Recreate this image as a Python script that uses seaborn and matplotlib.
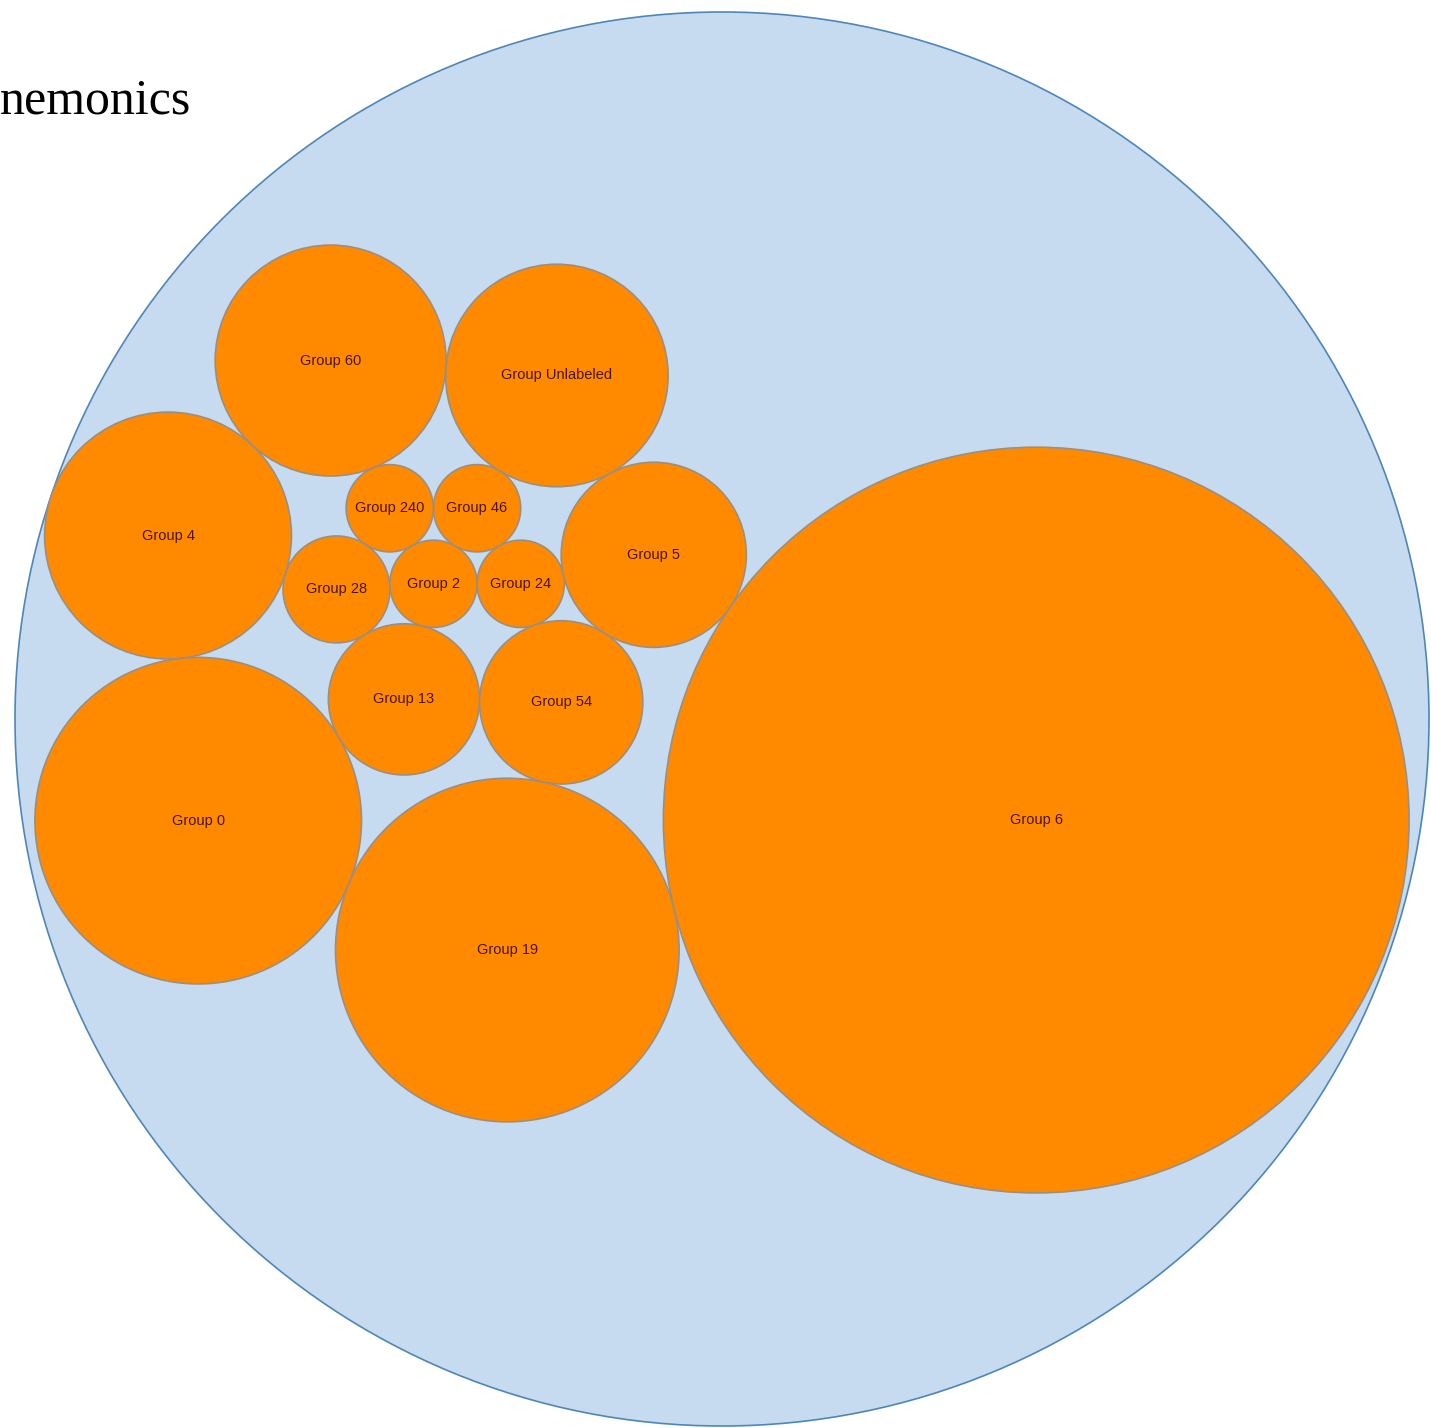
import math
import matplotlib
matplotlib.use("Agg")
import matplotlib.pyplot as plt
from matplotlib.patches import Circle
import seaborn as sns

# Data: group names and their counts (circle area ~ count)
GROUPS = [
    "Group 0", "Group 2", "Group 4", "Group 5", "Group 6", "Group 13", "Group 19",
    "Group 24", "Group 28", "Group 46", "Group 54", "Group 60", "Group 240",
    "Group Unlabeled",
]
COUNTS = [28, 2, 16, 9, 146, 6, 31, 2, 3, 2, 7, 14, 2, 13]
TITLE = "nemonics"

ROOT_FILL = "#c6dbef"
ROOT_EDGE = "#4f86b8"
LEAF_FILL = "#ff8a00"
LEAF_EDGE = "#9a8e84"
LABEL_COLOR = "#4a1400"


class Node:
    def __init__(self, name, value):
        self.name = name
        self.value = value
        self.r = math.sqrt(value)
        self.x = 0.0
        self.y = 0.0
        self.nxt = self
        self.prv = self


def place(a, b, c):
    db = a.r + c.r
    dx = b.x - a.x
    dy = b.y - a.y
    if db and (dx or dy):
        da = b.r + c.r
        dc = dx * dx + dy * dy
        da *= da
        db *= db
        x = 0.5 + (db - da) / (2 * dc)
        y = math.sqrt(max(0.0, 2 * da * (db + dc) - (db - dc) ** 2 - da * da)) / (2 * dc)
        c.x = a.x + x * dx + y * dy
        c.y = a.y + x * dy - y * dx
    else:
        c.x = a.x + db
        c.y = a.y


def intersects(a, b):
    dx = b.x - a.x
    dy = b.y - a.y
    dr = a.r + b.r
    return 0.999 * dr * dr > dx * dx + dy * dy


def insert(a, b):
    c = a.nxt
    a.nxt = b
    b.prv = a
    b.nxt = c
    c.prv = b


def splice(a, b):
    a.nxt = b
    b.prv = a


def pack_siblings(nodes):
    box = [math.inf, -math.inf, math.inf, -math.inf]

    def bound(n):
        box[0] = min(box[0], n.x - n.r)
        box[1] = max(box[1], n.x + n.r)
        box[2] = min(box[2], n.y - n.r)
        box[3] = max(box[3], n.y + n.r)

    a = nodes[0]
    a.x, a.y = -a.r, 0.0
    bound(a)
    b = nodes[1]
    b.x, b.y = b.r, 0.0
    bound(b)
    c = nodes[2]
    place(a, b, c)
    bound(c)
    insert(a, c)
    a.prv = c
    insert(c, b)
    b = a.nxt
    i = 3
    while i < len(nodes):
        c = nodes[i]
        place(a, b, c)
        isect, s1, s2 = False, 1, 1
        j = b.nxt
        while j is not b:
            if intersects(j, c):
                isect = True
                break
            j = j.nxt
            s1 += 1
        if isect:
            k = a.prv
            while k is not j.prv:
                if intersects(k, c):
                    break
                k = k.prv
                s2 += 1
            if s1 < s2 or (s1 == s2 and b.r < a.r):
                b = j
                splice(a, b)
            else:
                a = k
                splice(a, b)
            continue
        insert(a, c)
        b = c
        bound(c)
        i += 1

    cx = (box[0] + box[1]) / 2
    cy = (box[2] + box[3]) / 2
    cr = 0.0
    for n in nodes:
        n.x -= cx
        n.y -= cy
        cr = max(cr, n.r + math.hypot(n.x, n.y))
    return cr


nodes = sorted([Node(g, v) for g, v in zip(GROUPS, COUNTS)], key=lambda n: n.value)
root_r = pack_siblings(nodes)

sns.set_theme(style="white")

W, H = 1431, 1428
fig = plt.figure(figsize=(W / 100, H / 100), dpi=100)
ax = fig.add_axes([0, 0, 1, 1])

# map the packed layout onto the canvas (root centre / radius in pixels)
cx_px, cy_px, r_px = 722, 719, 707
s = r_px / root_r
ax.set_xlim(-cx_px / s, (W - cx_px) / s)
ax.set_ylim((H - cy_px) / s, -cy_px / s)
ax.axis("off")

ax.add_patch(Circle((0, 0), root_r, facecolor=ROOT_FILL, edgecolor=ROOT_EDGE, lw=1.2))
for n in nodes:
    ax.add_patch(Circle((n.x, n.y), n.r, facecolor=LEAF_FILL, edgecolor=LEAF_EDGE, lw=1.2))
    ax.text(n.x, n.y, n.name, ha="center", va="center", fontsize=10.5,
            color=LABEL_COLOR, family=["Liberation Sans", "DejaVu Sans"])

fig.text(0.0, 1 - 113 / H, TITLE, ha="left", va="baseline", fontsize=36,
         color="black", family=["Liberation Serif", "DejaVu Serif"])

fig.savefig("out.png", dpi=100)
